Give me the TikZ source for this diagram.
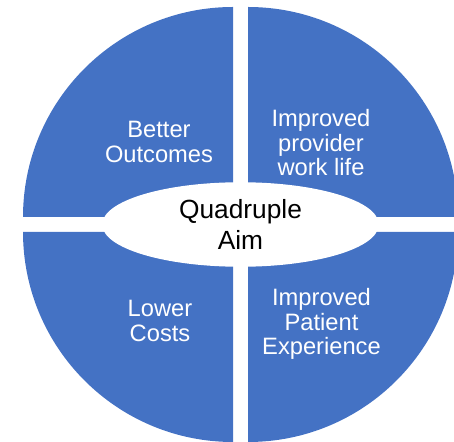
\documentclass[tikz,border=0pt]{standalone}
\usepackage{fontspec}
\setmainfont{Liberation Sans}
\usetikzlibrary{shapes.geometric}
\definecolor{quadblue}{HTML}{4472C4}

\begin{document}
\begin{tikzpicture}[x=1pt,y=1pt,
  quadrant/.style={fill=quadblue},
  aimtext/.style={text=white,align=center,font=\fontsize{23.7}{24.5}\selectfont},
  hub/.style={ellipse,fill=white,draw=white,line width=1.5pt,minimum width=275pt,minimum height=83pt,inner sep=0pt,align=center,font=\fontsize{26.3}{31}\selectfont}]
\useasboundingbox (0,0) rectangle (454,441);
\clip (0,0) rectangle (454,441);
\fill[quadrant] (233,224) -- (23,224) arc[start angle=180,end angle=90,radius=210pt] -- cycle;
\fill[quadrant] (248,224) -- (248,434) arc[start angle=90,end angle=0,radius=210pt] -- cycle;
\fill[quadrant] (233,209) -- (233,-1) arc[start angle=270,end angle=180,radius=210pt] -- cycle;
\fill[quadrant] (248,209) -- (458,209) arc[start angle=0,end angle=-90,radius=210pt] -- cycle;
\node[hub] (aim) at (240.5,216.5) {Quadruple\\Aim};
\node[aimtext] (outcomes) at (159,299) {Better\\Outcomes};
\node[aimtext] (worklife) at (321,298) {Improved\\provider\\work life};
\node[aimtext] (costs) at (160,120) {Lower\\Costs};
\node[aimtext] (patient) at (321.5,117) {Improved\\Patient\\Experience};
\end{tikzpicture}
\end{document}
